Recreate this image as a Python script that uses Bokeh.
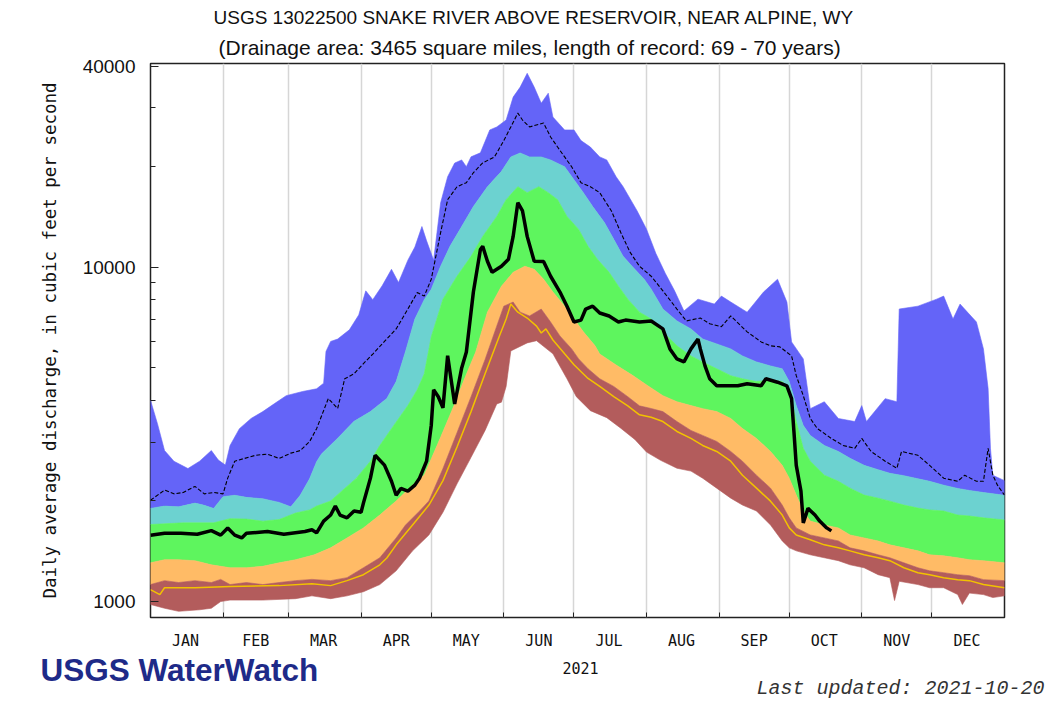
from bokeh.plotting import figure
from bokeh.layouts import column
from bokeh.models import FixedTicker, NumeralTickFormatter, Title, Range1d
from bokeh.core.properties import value
from bokeh.embed import file_html
from bokeh.resources import INLINE

# ---------------- data (day of year 0 = Jan 1, discharge in cfs) ----------------
months = ["JAN", "FEB", "MAR", "APR", "MAY", "JUN", "JUL", "AUG", "SEP", "OCT", "NOV", "DEC"]
month_start = [0, 31, 59, 90, 120, 151, 181, 212, 243, 273, 304, 334, 365]
month_mid = [15, 45, 74, 105, 135, 166, 196, 227, 258, 288, 319, 349]
year_label = "2021"

max_day = [0, 3, 6, 10, 16, 21, 26, 29, 32, 34, 38, 43, 48, 53, 58, 65, 71, 74, 75, 77, 80, 85, 89, 92,
           95, 99, 103, 106, 110, 113, 116, 118, 121, 124, 127, 130, 133, 135, 137, 141, 145, 148, 152,
           155, 158, 161, 164, 167, 170, 172, 177, 181, 184, 188, 192, 195, 199, 202, 208, 212, 216, 220,
           224, 228, 234, 241, 244, 248, 255, 262, 268, 272, 274, 279, 282, 288, 294, 301, 304, 306, 314,
           319, 320, 328, 336, 339, 343, 346, 353, 356, 358, 359, 360, 365]
max_cfs = [4000, 3400, 2830, 2630, 2500, 2630, 2830, 2650, 2560, 2930, 3290, 3530, 3700, 3910, 4130, 4250,
           4330, 4500, 5600, 6000, 6100, 6500, 7200, 8500, 8000, 8800, 9860, 9000, 10500, 11500, 13240,
           12000, 10500, 15600, 18660, 20500, 20950, 20000, 21400, 22000, 25750, 26290, 27570, 32290, 34590,
           38040, 34590, 30970, 33170, 28140, 25750, 25750, 23930, 22890, 21390, 20950, 18660, 17420, 14740,
           13000, 11000, 9600, 8500, 7400, 8030, 7760, 8200, 7870, 7340, 8430, 9210, 7870, 5980, 5320, 3777,
           3960, 3529, 3456, 3856, 3456, 4046, 3960, 7500, 7650, 8030, 8200, 7000, 7760, 6860, 5700, 4335,
           2873, 2387, 2300]

p90_day = [0, 6, 12, 19, 23, 27, 31, 36, 41, 48, 55, 60, 64, 68, 71, 73, 80, 87, 94, 101, 105, 109, 113,
           117, 120, 124, 128, 133, 138, 144, 150, 154, 158, 162, 167, 171, 177, 181, 185, 189, 194, 198,
           202, 207, 211, 214, 219, 225, 231, 236, 242, 248, 253, 259, 265, 270, 273, 276, 279, 282, 288,
           294, 299, 305, 311, 316, 322, 328, 333, 339, 345, 350, 356, 365]
p90_cfs = [1900, 1930, 1920, 1970, 1940, 1900, 2060, 2080, 2050, 2030, 1980, 1920, 2080, 2330, 2620, 2760,
           3080, 3460, 3700, 4050, 4550, 5600, 7000, 8000, 8600, 10070, 11550, 13240, 15190, 17420, 19360,
           21390, 21980, 21390, 21390, 20950, 19980, 18280, 16720, 15190, 13610, 12120, 10780, 9860, 9210,
           8600, 7500, 6910, 6540, 6100, 5900, 5700, 5430, 5210, 5070, 4970, 4550, 3856, 3365, 3140, 2931,
           2812, 2683, 2556, 2480, 2420, 2380, 2330, 2290, 2230, 2180, 2150, 2120, 2080]

p75_day = [0, 14, 27, 34, 41, 48, 55, 62, 68, 71, 77, 83, 88, 94, 98, 103, 110, 114, 117, 120, 125, 131,
           137, 142, 148, 152, 157, 161, 166, 170, 174, 178, 183, 187, 191, 196, 200, 204, 209, 214, 219,
           225, 231, 236, 242, 248, 253, 259, 265, 270, 273, 276, 279, 282, 288, 294, 299, 305, 311, 316,
           322, 328, 333, 339, 345, 350, 356, 365]
p75_cfs = [1700, 1720, 1720, 1770, 1765, 1740, 1760, 1840, 1880, 1930, 2000, 2180, 2340, 2630, 2930, 3290,
           3860, 4300, 4800, 6200, 8030, 9400, 10780, 12370, 14190, 15930, 17420, 16720, 17420, 16720, 15930,
           14190, 12980, 11550, 10570, 9660, 8780, 8030, 7340, 7000, 6410, 5820, 5430, 5210, 4970, 4740,
           4640, 4550, 4600, 4550, 4335, 3456, 2873, 2630, 2387, 2290, 2184, 2082, 2039, 1997, 1944, 1904,
           1880, 1866, 1815, 1803, 1780, 1754]

p25_day = [0, 6, 12, 19, 26, 34, 41, 48, 55, 62, 70, 77, 84, 91, 98, 105, 112, 117, 124, 130, 134, 139,
           144, 150, 155, 160, 164, 168, 172, 177, 181, 185, 190, 192, 199, 206, 213, 219, 225, 231, 236,
           242, 248, 253, 259, 265, 270, 273, 276, 279, 282, 288, 294, 299, 305, 311, 316, 322, 328, 333,
           339, 345, 350, 356, 365]
p25_cfs = [1306, 1334, 1334, 1325, 1288, 1262, 1262, 1275, 1306, 1334, 1380, 1448, 1550, 1661, 1815, 2000,
           2230, 2390, 3100, 3900, 4600, 5580, 7340, 8780, 9660, 10070, 9860, 9210, 8430, 7650, 7000, 6410,
           5820, 5500, 5100, 4750, 4400, 4130, 3960, 3856, 3777, 3700, 3529, 3294, 3076, 2812, 2556, 2339,
           2082, 1866, 1741, 1694, 1661, 1582, 1550, 1518, 1478, 1448, 1418, 1380, 1370, 1352, 1334, 1325,
           1306]

p10_day = [0, 6, 12, 19, 26, 30, 34, 41, 48, 55, 62, 69, 77, 84, 91, 98, 105, 109, 115, 119, 125, 131,
           137, 143, 148, 151, 155, 158, 162, 167, 171, 175, 180, 183, 187, 192, 198, 204, 209, 214, 219,
           225, 231, 236, 242, 248, 253, 259, 265, 270, 273, 276, 282, 288, 294, 299, 305, 311, 316, 322,
           328, 333, 339, 345, 350, 356, 365]
p10_cfs = [1124, 1155, 1140, 1155, 1140, 1165, 1124, 1140, 1124, 1140, 1155, 1165, 1155, 1179, 1262, 1352,
           1550, 1694, 1866, 2000, 2500, 3200, 4100, 5300, 6670, 7650, 7870, 7340, 7150, 7500, 6860, 6230,
           5700, 5320, 4970, 4640, 4400, 4100, 3850, 3780, 3700, 3456, 3250, 3140, 3013, 2812, 2630, 2387,
           2184, 1944, 1780, 1661, 1582, 1550, 1518, 1448, 1418, 1380, 1352, 1306, 1262, 1236, 1220, 1203,
           1195, 1163, 1155]

min_day = [0, 6, 12, 21, 26, 30, 34, 48, 62, 69, 77, 84, 91, 98, 105, 112, 119, 125, 131, 137, 143, 148,
           150, 152, 154, 161, 165, 172, 178, 182, 188, 195, 201, 207, 212, 218, 225, 231, 236, 242, 248,
           253, 259, 265, 270, 273, 276, 282, 288, 294, 299, 305, 311, 316, 318, 320, 328, 333, 339, 345,
           347, 350, 356, 360, 365]
min_cfs = [980, 955, 935, 945, 955, 1000, 1010, 1010, 1020, 1040, 1020, 1040, 1070, 1124, 1236, 1418, 1582,
           1850, 2250, 2700, 3250, 3900, 3950, 4400, 5620, 5940, 6030, 5510, 4640, 4100, 3725, 3550, 3300,
           3055, 2800, 2646, 2505, 2456, 2339, 2184, 2039, 1944, 1866, 1694, 1518, 1448, 1418, 1380, 1352,
           1325, 1288, 1262, 1203, 1179, 1007, 1150, 1124, 1100, 1100, 1049, 980, 1060, 1049, 1028, 1040]

low_day = [0, 4, 6, 19, 34, 55, 69, 77, 84, 91, 98, 101, 105, 112, 119, 125, 131, 137, 143, 149, 152, 154,
           157, 161, 165, 167, 169, 172, 177, 181, 187, 192, 198, 204, 209, 214, 219, 225, 231, 236, 242,
           248, 253, 259, 265, 270, 273, 276, 282, 288, 294, 299, 305, 311, 316, 322, 328, 333, 339, 345,
           350, 356, 365]
low_cfs = [1086, 1049, 1100, 1100, 1110, 1116, 1131, 1116, 1155, 1203, 1288, 1350, 1478, 1694, 1944, 2300,
           2900, 3700, 4800, 6200, 7000, 7760, 7340, 7050, 6670, 6360, 6540, 6060, 5510, 5110, 4650, 4400,
           4100, 3850, 3620, 3560, 3456, 3227, 3076, 2931, 2812, 2630, 2387, 2184, 1997, 1815, 1661, 1582,
           1530, 1478, 1448, 1418, 1380, 1352, 1325, 1262, 1220, 1203, 1179, 1163, 1155, 1124, 1100]

mean_day = [0, 6, 10, 14, 19, 23, 27, 31, 33, 36, 45, 50, 55, 60, 64, 68, 71, 76, 80, 83, 87, 91, 95, 100,
            105, 110, 114, 117, 120, 124, 127, 131, 135, 138, 142, 147, 151, 154, 157, 159, 162, 168, 171,
            174, 177, 180, 184, 188, 192, 197, 201, 205, 209, 214, 219, 225, 229, 235, 239, 244, 248, 255,
            261, 265, 269, 274, 276, 279, 282, 285, 291, 296, 301, 304, 308, 314, 319, 321, 328, 333, 339,
            345, 348, 353, 356, 358, 360, 362, 365]
mean_cfs = [2010, 2155, 2100, 2120, 2210, 2100, 2120, 2100, 2340, 2630, 2740, 2760, 2680, 2780, 2830, 3010,
            3290, 4050, 3780, 4640, 4800, 5150, 5500, 6000, 6540, 7500, 8400, 8200, 9210, 12700, 15930,
            17420, 17910, 19180, 20530, 21390, 23930, 26290, 28920, 27570, 26290, 27020, 24540, 22890, 21390,
            19980, 17910, 17420, 16720, 14740, 12700, 11080, 10070, 9400, 8500, 7500, 6910, 7050, 6780, 6640,
            7150, 6410, 5980, 5820, 5780, 5430, 4740, 4130, 3529, 3294, 3076, 2931, 2873, 3076, 2812, 2630,
            2505, 2812, 2738, 2556, 2339, 2290, 2387, 2290, 2290, 2873, 2390, 2229, 2082]

flow_day = [0, 6, 13, 20, 26, 30, 33, 36, 39, 41, 50, 57, 66, 69, 71, 74, 77, 79, 81, 84, 87, 90, 91, 94,
            96, 100, 103, 105, 107, 110, 113, 115, 118, 120, 121, 123, 125, 127, 130, 133, 135, 138, 141,
            142, 144, 146, 150, 153, 155, 157, 159, 161, 164, 168, 171, 175, 178, 181, 184, 186, 189, 192,
            196, 200, 203, 209, 214, 219, 222, 225, 228, 231, 234, 235, 237, 239, 242, 251, 255, 261, 263,
            268, 272, 274, 275, 276, 278, 279, 281, 284, 286, 289, 291]
flow_cfs = [1580, 1600, 1600, 1590, 1630, 1580, 1660, 1580, 1550, 1600, 1620, 1590, 1620, 1640, 1605, 1740,
            1815, 1930, 1815, 1780, 1866, 1850, 1970, 2340, 2740, 2560, 2290, 2080, 2180, 2140, 2230, 2340,
            2630, 3370, 4300, 4100, 3800, 5440, 3900, 5000, 5580, 8430, 11300, 11550, 10420, 9660, 10070,
            10570, 12370, 15610, 14740, 12370, 10420, 10400, 9400, 8430, 7650, 6860, 6950, 7500, 7650, 7300,
            7150, 6860, 6950, 6860, 6910, 6540, 5700, 5320, 5210, 5700, 6100, 5700, 5070, 4640, 4420, 4420,
            4485, 4420, 4640, 4530, 4420, 4046, 3227, 2556, 2140, 1718, 1900, 1815, 1741, 1661, 1627]

y_ticks = [1000, 10000, 40000]
y_minor = [2000, 3000, 4000, 5000, 6000, 7000, 8000, 9000, 20000, 30000]

# ---------------- main figure ----------------
W = 1045
H1 = 652
p = figure(width=W, height=H1, x_range=(0, 365), y_range=(896, 40700), y_axis_type="log",
           output_backend="svg", toolbar_location=None,
           min_border_left=150, min_border_right=W - 1004, min_border_top=63, min_border_bottom=H1 - 620)
p.background_fill_color = "white"
p.border_fill_color = "white"
p.outline_line_color = "#222222"
p.outline_line_width = 1.5

def band(upper_d, upper_v, lower_d, lower_v, color):
    xs = list(upper_d) + list(reversed(lower_d))
    ys = list(upper_v) + list(reversed(lower_v))
    p.patch(xs, ys, fill_color=color, line_color=color, line_width=0.6)

band(max_day, max_cfs, p90_day, p90_cfs, "#6464f8")
band(p90_day, p90_cfs, p75_day, p75_cfs, "#6cd2d0")
band(p75_day, p75_cfs, p25_day, p25_cfs, "#5ef55e")
band(p25_day, p25_cfs, p10_day, p10_cfs, "#ffbb66")
band(p10_day, p10_cfs, min_day, min_cfs, "#b35c5c")

p.line(low_day, low_cfs, line_color="#f2c200", line_width=1.5)
p.line(mean_day, mean_cfs, line_color="black", line_width=1.1, line_dash="4 2")
p.line(flow_day, flow_cfs, line_color="black", line_width=3.5)

p.ygrid.grid_line_color = None
p.xgrid.ticker = FixedTicker(ticks=month_start)
p.xgrid.grid_line_color = "#d6d6d6"
p.xgrid.grid_line_width = 1.5

xa = p.xaxis[0]
xa.ticker = FixedTicker(ticks=month_mid, minor_ticks=month_start)
xa.major_label_overrides = {d: m for d, m in zip(month_mid, months)}
xa.major_tick_in = 0
xa.major_tick_out = 0
xa.minor_tick_in = 5
xa.minor_tick_out = 0
xa.minor_tick_line_color = "#222222"
xa.axis_line_color = None
xa.major_label_standoff = 14
xa.major_label_text_font = "DejaVu Sans Mono"
xa.major_label_text_font_size = "15px"
xa.major_label_text_color = "#111111"

ya = p.yaxis[0]
ya.ticker = FixedTicker(ticks=y_ticks, minor_ticks=y_minor)
ya.formatter = NumeralTickFormatter(format="0")
ya.major_tick_in = 8
ya.major_tick_out = 0
ya.minor_tick_in = 5
ya.minor_tick_out = 0
ya.major_tick_line_color = "#222222"
ya.minor_tick_line_color = "#222222"
ya.axis_line_color = None
ya.major_label_standoff = 15
ya.major_label_text_font = "Liberation Sans"
ya.major_label_text_font_size = "19px"
ya.major_label_text_color = "#111111"
ya.axis_label = "Daily average discharge, in cubic feet per second"
ya.axis_label_standoff = 20
ya.axis_label_text_font = "DejaVu Sans Mono"
ya.axis_label_text_font_size = "17.5px"
ya.axis_label_text_font_style = "normal"
ya.axis_label_text_color = "#111111"

# titles (first added sits closest to the plot); left-aligned with offsets so they centre on the page
p.add_layout(Title(text="(Drainage area: 3465 square miles, length of record: 69 - 70 years)",
                   align="left", offset=68, text_font="Liberation Sans", text_font_size="21px",
                   text_font_style="normal", text_color="#111111", standoff=10), "above")
p.add_layout(Title(text="USGS 13022500 SNAKE RIVER ABOVE RESERVOIR, NEAR ALPINE, WY",
                   align="left", offset=63, text_font="Liberation Sans", text_font_size="19px",
                   text_font_style="normal", text_color="#111111", standoff=2), "above")

# ---------------- footer strip ----------------
H2 = 700 - H1
f = figure(width=W, height=H2, x_range=Range1d(0, W), y_range=Range1d(H2, 0),
           output_backend="svg", toolbar_location=None, x_axis_location=None, y_axis_location=None,
           min_border=0)
try:
    f.frame_align = False
    p.frame_align = False
except Exception:
    pass
f.outline_line_color = None
f.grid.visible = False
f.background_fill_color = "white"
f.border_fill_color = "white"
f.text(x=[40], y=[17], text=["USGS WaterWatch"], text_font=value("Liberation Sans"),
       text_font_size="31.5px", text_font_style="bold", text_color="#1e2a88",
       text_baseline="middle", text_align="left")
f.text(x=[580], y=[15], text=[year_label], text_font=value("DejaVu Sans Mono"),
       text_font_size="15px", text_color="#111111", text_baseline="middle", text_align="center")
f.text(x=[W - 1], y=[36], text=["Last updated: 2021-10-20"], text_font=value("Liberation Mono"),
       text_font_size="20px", text_font_style="italic", text_color="#333333",
       text_baseline="middle", text_align="right")

layout = column(p, f, spacing=0)
open("out.html", "w").write(file_html(layout, INLINE))
